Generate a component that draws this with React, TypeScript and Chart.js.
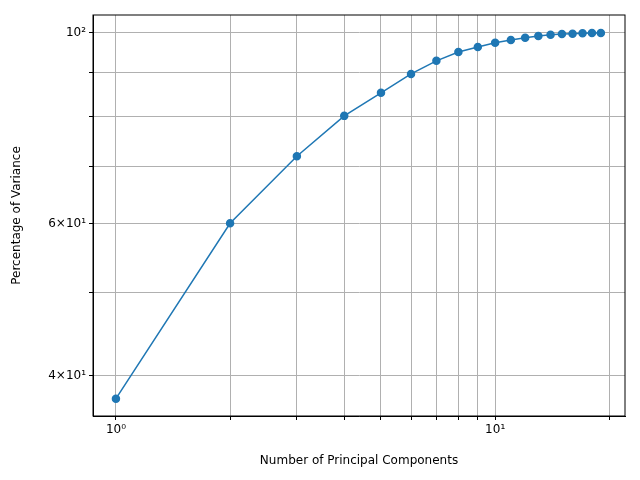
import React, { useEffect, useRef } from "react";
import { Chart, registerables } from "chart.js";
Chart.register(...registerables);

const components = [1,2,3,4,5,6,7,8,9,10,11,12,13,14,15,16,17,18,19];
const variance = [37.6,60.1,71.9,80.1,85.2,89.6,92.8,95.0,96.3,97.4,98.1,98.7,99.2,99.5,99.7,99.8,99.9,100,100];
const xTicks = [1,2,3,4,5,6,7,8,9,10,20];
const xLabels: Record<number,string> = { 1: "10⁰", 10: "10¹" };
const yTicks = [40,50,60,70,80,90,100];
const yLabels: Record<number,string> = { 40: "4×10¹", 60: "6×10¹", 100: "10²" };

export default function App() {
  const ref = useRef<HTMLCanvasElement>(null);
  useEffect(() => {
    document.body.style.margin = "0";
    const font = { family: "DejaVu Sans", size: 12 };
    const box = {
      id: "box",
      afterDraw(c: any) {
        const { left, right, top, bottom } = c.chartArea;
        const ctx = c.ctx;
        ctx.save();
        ctx.strokeStyle = "#000";
        ctx.lineWidth = 1;
        ctx.strokeRect(left, top, right - left, bottom - top);
        ctx.restore();
      },
    };
    const chart = new Chart(ref.current!, {
      type: "line",
      data: {
        datasets: [{
          data: components.map((x, i) => ({ x, y: variance[i] })),
          borderColor: "#1f77b4",
          backgroundColor: "#1f77b4",
          borderWidth: 1.5,
          pointRadius: 3.5,
          pointHoverRadius: 3.5,
        }],
      },
      options: {
        animation: false,
        responsive: false,
        layout: { padding: { top: 15, right: 15, bottom: 12, left: 10 } },
        plugins: { legend: { display: false }, tooltip: { enabled: false } },
        scales: {
          x: {
            type: "logarithmic",
            min: 0.87,
            max: 22,
            afterBuildTicks: (a: any) => { a.ticks = xTicks.map((v) => ({ value: v })); },
            afterFit: (a: any) => { a.height = 52; },
            ticks: { autoSkip: false, maxRotation: 0, color: "#000", font, callback: (v: any) => xLabels[v] ?? "" },
            grid: { color: "#b0b0b0", tickColor: "#000", tickLength: 4 },
            border: { color: "#000" },
            title: { display: true, text: "Number of Principal Components", color: "#000", font, padding: 0 },
          },
          y: {
            type: "logarithmic",
            min: 35.9,
            max: 104.9,
            afterBuildTicks: (a: any) => { a.ticks = yTicks.map((v) => ({ value: v })); },
            afterFit: (a: any) => { a.width = 83; },
            ticks: { autoSkip: false, color: "#000", font, callback: (v: any) => yLabels[v] ?? "" },
            grid: { color: "#b0b0b0", tickColor: "#000", tickLength: 4 },
            border: { color: "#000" },
            title: { display: true, text: "Percentage of Variance", color: "#000", font, padding: 0 },
          },
        },
      },
      plugins: [box],
    });
    return () => chart.destroy();
  }, []);
  return <canvas ref={ref} width={640} height={480} />;
}
